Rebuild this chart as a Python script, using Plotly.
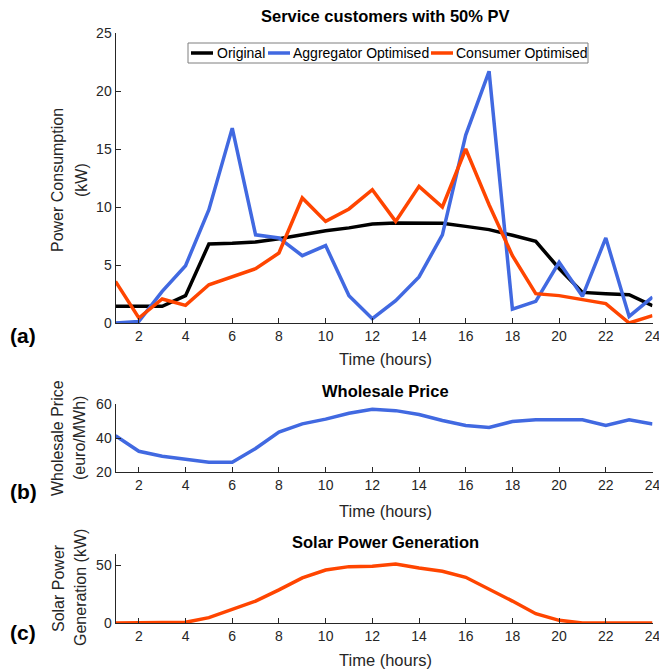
import plotly.graph_objects as go
from plotly.subplots import make_subplots

# ---------------- data ----------------
hours = list(range(1, 25))

series_names = ["Original", "Aggregator Optimised", "Consumer Optimised"]
original = [1.44, 1.44, 1.44, 2.36, 6.81, 6.87, 6.98, 7.27, 7.60, 7.96, 8.20, 8.53,
            8.62, 8.60, 8.60, 8.33, 8.05, 7.56, 7.04, 4.70, 2.64, 2.53, 2.44, 1.50]
aggregator = [0.00, 0.14, 2.73, 4.94, 9.77, 16.80, 7.60, 7.33, 5.80, 6.67, 2.36, 0.37,
              1.93, 3.97, 7.60, 16.20, 21.70, 1.20, 1.87, 5.23, 2.30, 7.33, 0.57, 2.24]
consumer = [3.59, 0.43, 2.07, 1.52, 3.30, 3.97, 4.68, 6.03, 10.78, 8.76, 9.83, 11.49,
            8.76, 11.78, 10.00, 15.00, 10.20, 5.80, 2.53, 2.36, 2.01, 1.67, 0.00, 0.63]

wholesale_price = [41.4, 32.2, 29.3, 27.4, 25.8, 25.8, 33.8, 43.5, 48.3, 51.1, 54.6, 56.9,
                   56.1, 53.8, 50.3, 47.4, 46.2, 49.7, 50.7, 50.7, 50.7, 47.4, 50.7, 48.2]

solar = [0.0, 0.0, 0.0, 0.6, 4.6, 11.7, 18.9, 28.6, 38.9, 45.7, 48.6, 48.9,
         50.9, 47.4, 44.6, 39.4, 29.4, 18.9, 8.0, 2.3, 0.0, 0.0, 0.0, 0.0]

x_ticks = list(range(2, 25, 2))
y_ticks_a = [0, 5, 10, 15, 20, 25]
y_ticks_b = [20, 40, 60]
y_ticks_c = [0, 50]

# ---------------- layout helpers ----------------
OFF = 8                      # page body margin
W, H = 667 - OFF, 670 - OFF
def px(xp):
    return (xp - OFF) / W
def py(yp):
    return 1 - (yp - OFF) / H

BLACK = "#000000"
BLUE = "#4169E1"
ORANGE = "#FF4500"
AX = "#262626"
FONT = "Liberation Sans, Arial, sans-serif"
LW = 3.5
colors = [BLACK, BLUE, ORANGE]

fig = make_subplots(rows=3, cols=1)

for name, vals, col in zip(series_names, [original, aggregator, consumer], colors):
    fig.add_trace(go.Scatter(x=hours, y=vals, mode="lines", name=name, showlegend=False,
                             line=dict(color=col, width=LW)), row=1, col=1)
fig.add_trace(go.Scatter(x=hours, y=wholesale_price, mode="lines", showlegend=False,
                         name="Wholesale Price", line=dict(color=BLUE, width=LW)), row=2, col=1)
fig.add_trace(go.Scatter(x=hours, y=solar, mode="lines", showlegend=False,
                         name="Solar Power Generation", line=dict(color=ORANGE, width=LW)), row=3, col=1)

x_dom = [px(115.5), px(652.5)]
common_x = dict(range=[1, 24], tickvals=x_ticks, ticks="inside", ticklen=5,
                tickcolor=AX, showline=True, linecolor=AX, linewidth=1,
                showgrid=False, zeroline=False, mirror=False, ticklabeloverflow="allow",
                tickfont=dict(family=FONT, size=14, color=AX), domain=x_dom)
common_y = dict(ticks="inside", ticklen=5, tickcolor=AX, showline=True, linecolor=AX,
                linewidth=1, showgrid=False, zeroline=False, mirror=False,
                tickfont=dict(family=FONT, size=14, color=AX))

fig.update_layout(
    xaxis=dict(**common_x),
    xaxis2=dict(**common_x),
    xaxis3=dict(**common_x),
    yaxis=dict(**common_y, range=[0, 25], tickvals=y_ticks_a, domain=[py(323), py(33)]),
    yaxis2=dict(**common_y, range=[20, 60], tickvals=y_ticks_b, domain=[py(472), py(404)]),
    yaxis3=dict(**common_y, range=[0, 59.5], tickvals=y_ticks_c, domain=[py(623), py(554)]),
)

ann = []
def text(t, x, y, size=16, bold=False, angle=0, color="#000000", xanchor="center"):
    ann.append(dict(text=("<b>%s</b>" % t) if bold else t, x=px(x), y=py(y),
                    xref="paper", yref="paper", showarrow=False, textangle=angle,
                    xanchor=xanchor, yanchor="middle",
                    font=dict(family=FONT, size=size, color=color)))

# titles
text("Service customers with 50% PV", 385, 16, 16.5, True)
text("Wholesale Price", 385, 391, 16.5, True)
text("Solar Power Generation", 385, 542, 16.5, True)
# x labels
for yy in (359, 511, 660):
    text("Time (hours)", 385, yy, 16.5, color=AX)
# y labels
text("Power Consumption", 57, 180, 16, angle=-90, color=AX)
text("(kW)", 81, 180, 16, angle=-90, color=AX)
text("Wholesale Price", 57, 438, 16, angle=-90, color=AX)
text("(euro/MWh)", 79, 438, 16, angle=-90, color=AX)
text("Solar Power", 58, 588, 16, angle=-90, color=AX)
text("Generation (kW)", 80, 588, 16, angle=-90, color=AX)
# panel labels
text("(a)", 23, 335, 21, True)
text("(b)", 23, 491, 21, True)
text("(c)", 23, 632, 21, True)

# legend (drawn manually to match the compact MATLAB legend box)
shapes = [dict(type="rect", xref="paper", yref="paper",
               x0=px(188), x1=px(588), y0=py(63), y1=py(43),
               line=dict(color="#7f7f7f", width=1), fillcolor="white", layer="above")]
legend_items = [(191, 215), (268, 291), (431, 454)]
for (lx, tx), name, col in zip(legend_items, series_names, colors):
    shapes.append(dict(type="line", xref="paper", yref="paper",
                       x0=px(lx), x1=px(lx + 22), y0=py(53), y1=py(53),
                       line=dict(color=col, width=LW), layer="above"))
    text(name, tx, 53.5, 14, xanchor="left")

fig.update_layout(
    width=W, height=H,
    margin=dict(l=0, r=0, t=0, b=0, autoexpand=False),
    paper_bgcolor="white", plot_bgcolor="white",
    annotations=ann, shapes=shapes,
    showlegend=False,
)

fig.write_html("out.html")
